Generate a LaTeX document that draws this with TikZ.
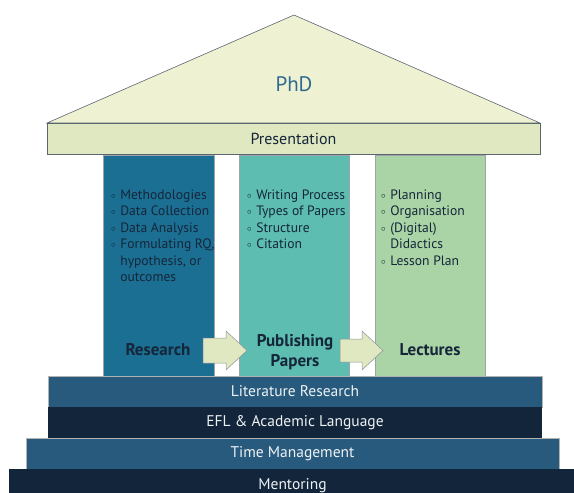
\documentclass[tikz,border=0pt]{standalone}
\usepackage{fontspec}
\setmainfont{PT Sans}
\usepackage{tikz}

\definecolor{roofcol}{HTML}{EEF2D2}
\definecolor{barcol}{HTML}{DFE8C0}
\definecolor{edgecol}{HTML}{5B6670}
\definecolor{rescol}{HTML}{1B6F93}
\definecolor{pubcol}{HTML}{5CBDB0}
\definecolor{leccol}{HTML}{AAD4A5}
\definecolor{bandlight}{HTML}{285A7D}
\definecolor{banddark}{HTML}{12253A}
\definecolor{inkcol}{HTML}{15263A}
\definecolor{phdcol}{HTML}{2F6A92}

\newcommand{\bul}{\raisebox{.8pt}{\small$\circ$}}

\begin{document}
\begin{tikzpicture}[x=1pt,y=-1pt,
  every node/.style={inner sep=0pt},
  pillar/.style={draw=edgecol!60,line width=.6pt,minimum width=110pt,minimum height=222pt},
  band/.style={minimum height=31pt,text=white!92!bandlight,font=\fontsize{15.5}{18}\selectfont},
  itemlist/.style={anchor=north west,align=left,text=inkcol,font=\fontsize{13.6}{16.5}\selectfont},
  pillarhead/.style={text=inkcol,align=center,font=\fontsize{17}{20}\selectfont\bfseries},
  blockarrow/.style={fill=barcol,draw=edgecol!70,line width=.5pt}]
  \clip (0,0) rectangle (574,493);
  % roof
  \draw [fill=roofcol,draw=edgecol,line width=.6pt] (47,123) -- (294,15) -- (540,123) -- cycle;
  \node (phd) at (294,84) [text=phdcol,font=\fontsize{21}{24}\selectfont] {PhD};
  \node (pres) at (293.5,138.5) [draw=edgecol,fill=barcol,line width=.7pt,minimum width=493pt,minimum height=31pt,text=inkcol,font=\fontsize{16}{18}\selectfont] {Presentation};
  % pillars
  \node (research) at (158.5,266) [pillar,fill=rescol,minimum width=111pt] {};
  \node (publish) at (294,266) [pillar,fill=pubcol] {};
  \node (lecture) at (430,266) [pillar,fill=leccol] {};
  \node (reslist) at (111,187.5) [itemlist] {\begin{tabular}{@{}l@{\hspace{4.5pt}}l@{}}
    \bul & Methodologies\\
    \bul & Data Collection\\
    \bul & Data Analysis\\
    \bul & Formulating RQ,\\
         & hypothesis, or\\
         & outcomes
  \end{tabular}};
  \node (publist) at (247,187.5) [itemlist] {\begin{tabular}{@{}l@{\hspace{4.5pt}}l@{}}
    \bul & Writing Process\\
    \bul & Types of Papers\\
    \bul & Structure\\
    \bul & Citation
  \end{tabular}};
  \node (leclist) at (381,187.5) [itemlist] {\begin{tabular}{@{}l@{\hspace{4.5pt}}l@{}}
    \bul & Planning\\
    \bul & Organisation\\
    \bul & (Digital)\\
         & Didactics\\
    \bul & Lesson Plan
  \end{tabular}};
  \node (reshead) at (158,350) [pillarhead] {Research};
  \node (pubhead) at (295,352) [pillarhead] {Publishing\\Papers};
  \node (lechead) at (430,350) [pillarhead] {Lectures};
  % arrows between pillars
  \draw [blockarrow] (203,338) -- (226,338) -- (226,331) -- (247,350.5) -- (226,370) -- (226,363) -- (203,363) -- cycle;
  \draw [blockarrow] (340,339) -- (362,339) -- (362,331) -- (383,350.5) -- (362,370) -- (362,362) -- (340,362) -- cycle;
  % foundation
  \node (lit) at (295,391.5) [band,fill=bandlight,draw=gray!60,line width=.4pt,minimum width=494pt] {Literature Research};
  \node (efl) at (295,422.5) [band,fill=banddark,minimum width=494pt] {EFL \& Academic Language};
  \node (time) at (292.5,453.5) [band,fill=bandlight,draw=gray!60,line width=.4pt,minimum width=533pt] {Time Management};
  \node (mentor) at (292.5,486) [band,fill=banddark,minimum width=567pt,minimum height=34pt] {Mentoring};
\end{tikzpicture}
\end{document}
